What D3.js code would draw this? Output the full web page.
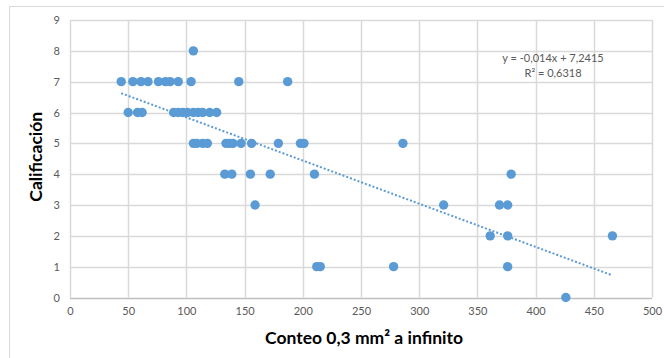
<!DOCTYPE html>
<html>
<head>
<meta charset="utf-8">
<script src="https://cdn.jsdelivr.net/npm/d3@7"></script>
<style>
  body { margin: 0; background: #fff; }
  svg { display: block; font-family: Lato, "Open Sans", sans-serif; }
</style>
</head>
<body>
<div id="chart"></div>
<script>
// conteo (x) and calificacion (y)
const conteo = [
  106,
  44, 54, 61, 67, 76, 82, 86, 93, 104, 145, 187,
  50, 58, 62, 89, 93, 97, 101, 106, 110, 114, 120, 126,
  106, 109, 114, 118, 134, 137, 140, 147, 156, 179, 198, 201, 286,
  133, 139, 155, 172, 210, 379,
  159, 321, 369, 376,
  361, 376, 466,
  212, 215, 278, 376,
  426
];
const calificacion = [
  8,
  7, 7, 7, 7, 7, 7, 7, 7, 7, 7, 7,
  6, 6, 6, 6, 6, 6, 6, 6, 6, 6, 6, 6,
  5, 5, 5, 5, 5, 5, 5, 5, 5, 5, 5, 5, 5,
  4, 4, 4, 4, 4, 4,
  3, 3, 3, 3,
  2, 2, 2,
  1, 1, 1, 1,
  0
];
const xTicks = [0, 50, 100, 150, 200, 250, 300, 350, 400, 450, 500];
const yTicks = [0, 1, 2, 3, 4, 5, 6, 7, 8, 9];
const slope = -0.014, intercept = 7.2415;
const eqLines = ['y = -0,014x + 7,2415', 'R² = 0,6318'];

const W = 664, H = 358;
const margin = { top: 20, right: 12, bottom: 60.5, left: 70 };
const width = W - margin.left - margin.right;
const height = H - margin.top - margin.bottom;

const svg = d3.select('#chart').append('svg')
  .attr('width', W)
  .attr('height', H);

// outer chart border (only top and left show in the picture)
svg.append('path')
  .attr('d', 'M9.5,' + H + ' V6.5 H' + W)
  .attr('fill', 'none')
  .attr('stroke', '#d9d9d9');

const g = svg.append('g')
  .attr('transform', `translate(${margin.left},${margin.top})`);

const x = d3.scaleLinear().domain([0, 500]).range([0, width]);
const y = d3.scaleLinear().domain([0, 9]).range([height, 0]);

// grid
g.append('g').attr('class', 'grid-x')
  .selectAll('line').data(xTicks).join('line')
  .attr('x1', d => Math.round(x(d)) + 0.5).attr('x2', d => Math.round(x(d)) + 0.5)
  .attr('y1', 0).attr('y2', height)
  .attr('stroke', '#d9d9d9').attr('stroke-width', 1.5);

g.append('g').attr('class', 'grid-y')
  .selectAll('line').data(yTicks).join('line')
  .attr('x1', 0).attr('x2', width)
  .attr('y1', d => Math.round(y(d)) + 0.5).attr('y2', d => Math.round(y(d)) + 0.5)
  .attr('stroke', d => d === 0 ? '#bfbfbf' : '#d9d9d9').attr('stroke-width', 1.5);

// axes (labels only)
const xAxis = d3.axisBottom(x).tickValues(xTicks).tickSize(0).tickPadding(10);
const xAxisGroup = g.append('g')
  .attr('transform', `translate(0,${height})`)
  .call(xAxis);

const yAxis = d3.axisLeft(y).tickValues(yTicks).tickSize(0).tickPadding(10);
const yAxisGroup = g.append('g').call(yAxis);

[xAxisGroup, yAxisGroup].forEach(ax => {
  ax.select('.domain').remove();
  ax.selectAll('text')
    .attr('fill', '#595959')
    .style('font-size', '11px')
    .style('font-family', 'Lato, "Open Sans", sans-serif');
});

// trend line
const xMin = d3.min(conteo), xMax = d3.max(conteo);
const trend = d3.line()
  .x(d => x(d))
  .y(d => y(slope * d + intercept));

g.append('path')
  .datum([xMin, xMax])
  .attr('d', trend)
  .attr('fill', 'none')
  .attr('stroke', '#5b9bd5')
  .attr('stroke-width', 2)
  .attr('stroke-dasharray', '2,2');

// points
const pts = conteo.map((c, i) => ({ c: c, v: calificacion[i] }));
g.append('g').attr('class', 'points')
  .selectAll('circle').data(pts).join('circle')
  .attr('cx', d => x(d.c))
  .attr('cy', d => y(d.v))
  .attr('r', 4.7)
  .attr('fill', '#5b9bd5');

// equation label
const eq = g.append('text')
  .attr('text-anchor', 'middle')
  .attr('fill', '#595959')
  .style('font-size', '11px');
eq.selectAll('tspan').data(eqLines).join('tspan')
  .attr('x', x(415))
  .attr('y', (d, i) => y(8) + 11 + i * 15)
  .text(d => d);

// axis titles
svg.append('text')
  .attr('x', margin.left + width / 2 + 3)
  .attr('y', 344)
  .attr('text-anchor', 'middle')
  .attr('fill', '#000')
  .style('font-size', '17.5px')
  .style('font-weight', 'bold')
  .text('Conteo 0,3 mm² a infinito');

svg.append('text')
  .attr('transform', `translate(42,${margin.top + height / 2 - 2}) rotate(-90)`)
  .attr('text-anchor', 'middle')
  .attr('fill', '#000')
  .style('font-size', '17.5px')
  .style('font-weight', 'bold')
  .text('Calificación');
</script>
</body>
</html>
